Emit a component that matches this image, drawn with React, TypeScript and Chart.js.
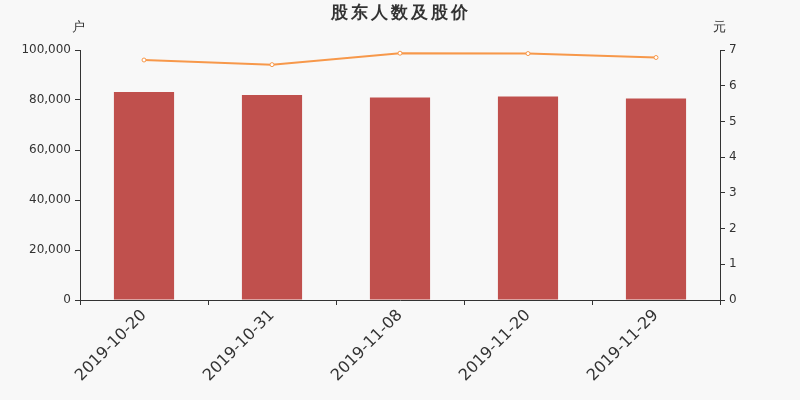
import React, { useEffect, useRef } from "react";
import { Chart, registerables } from "chart.js";

Chart.register(...registerables);

const categories = ["2019-10-20", "2019-10-31", "2019-11-08", "2019-11-20", "2019-11-29"];
const holders = [83200, 82000, 81000, 81400, 80600];
const prices = [6.72, 6.59, 6.91, 6.9, 6.79];
const chartTitle = "股东人数及股价";
const leftUnit = "户";
const rightUnit = "元";

const FONT = "'DejaVu Sans', sans-serif";

const textPlugin = {
  id: "texts",
  afterDraw(chart: any) {
    const ctx = chart.ctx;
    const y0 = chart.scales.y;
    const y1 = chart.scales.y1;
    ctx.save();
    ctx.fillStyle = "#333";
    ctx.font = `bold 17px ${FONT}`;
    ctx.textAlign = "center";
    ctx.textBaseline = "middle";
    try {
      (ctx as any).letterSpacing = "3px";
    } catch (e) {}
    ctx.fillText(chartTitle, 401, 14);
    try {
      (ctx as any).letterSpacing = "0px";
    } catch (e) {}
    ctx.font = `13px ${FONT}`;
    ctx.fillText(leftUnit, y0.right - 2, 28);
    ctx.fillText(rightUnit, y1.left - 1, 28);
    ctx.restore();
  },
};

export default function App() {
  const ref = useRef<HTMLCanvasElement>(null);
  useEffect(() => {
    const chart = new Chart(ref.current!, {
      type: "bar",
      data: {
        labels: categories,
        datasets: [
          {
            type: "line",
            data: prices,
            yAxisID: "y1",
            borderColor: "#f7984a",
            borderWidth: 2,
            pointRadius: 2,
            pointBackgroundColor: "#ffffff",
            pointBorderColor: "#f7984a",
            pointBorderWidth: 1,
            tension: 0,
            order: 0,
          } as any,
          {
            type: "bar",
            data: holders,
            yAxisID: "y",
            backgroundColor: "#c0504d",
            categoryPercentage: 1,
            barPercentage: 0.47,
            order: 1,
          },
        ],
      },
      options: {
        animation: false,
        responsive: false,
        maintainAspectRatio: false,
        layout: { padding: { top: 50, left: 0, right: 0, bottom: 0 } },
        plugins: { legend: { display: false }, tooltip: { enabled: false }, title: { display: false } },
        scales: {
          x: {
            offset: true,
            grid: { offset: true, drawOnChartArea: false, drawTicks: true, tickLength: 5, color: "#333" },
            border: { display: true, color: "#333" },
            ticks: {
              color: "#333",
              font: { family: FONT, size: 16 },
              maxRotation: 45,
              minRotation: 45,
              padding: 1,
            },
            afterFit(s: any) {
              s.height = 100;
            },
          },
          y: {
            position: "left",
            min: 0,
            max: 100000,
            grid: { drawOnChartArea: false, drawTicks: true, tickLength: 5, color: "#333" },
            border: { display: true, color: "#333" },
            ticks: {
              stepSize: 20000,
              color: "#333",
              font: { family: FONT, size: 12 },
              padding: 4,
              callback: (v: any) => Number(v).toLocaleString("en-US"),
            },
            afterFit(s: any) {
              s.width = 80;
            },
          },
          y1: {
            position: "right",
            min: 0,
            max: 7,
            grid: { drawOnChartArea: false, drawTicks: true, tickLength: 5, color: "#333" },
            border: { display: true, color: "#333" },
            ticks: {
              stepSize: 1,
              color: "#333",
              font: { family: FONT, size: 12 },
              padding: 4,
            },
            afterFit(s: any) {
              s.width = 80;
            },
          },
        },
      },
      plugins: [textPlugin],
    });
    return () => chart.destroy();
  }, []);
  return (
    <div style={{ position: "fixed", left: 0, top: 0, width: 800, height: 400, background: "#f8f8f8" }}>
      <canvas ref={ref} width={800} height={400} style={{ width: 800, height: 400 }} />
    </div>
  );
}
